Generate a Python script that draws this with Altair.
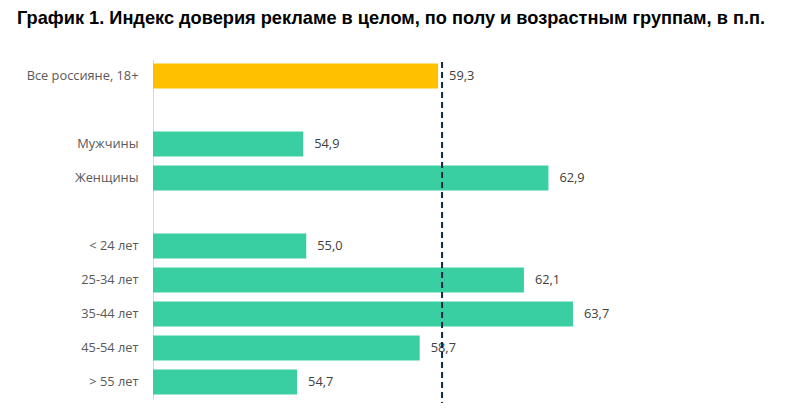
import altair as alt
import pandas as pd

categories = ["Все россияне, 18+", "Мужчины", "Женщины", "< 24 лет", "25-34 лет",
              "35-44 лет", "45-54 лет", "> 55 лет"]
values = [59.3, 54.9, 62.9, 55.0, 62.1, 63.7, 58.7, 54.7]
groups = ["total", "sex", "sex", "age", "age", "age", "age", "age"]
order = ["Все россияне, 18+", " ", "Мужчины", "Женщины", "  ", "< 24 лет", "25-34 лет",
         "35-44 лет", "45-54 лет", "> 55 лет"]
average = 59.3

df = pd.DataFrame({
    "cat": categories,
    "val": values,
    "grp": groups,
    "lbl": [f"{v:.1f}".replace(".", ",") for v in values],
})

LABEL_FONT = "Open Sans"
FS = 12.8

y_enc = alt.Y("cat:N", sort=order,
              scale=alt.Scale(domain=order, paddingInner=0.26, paddingOuter=0.13),
              axis=alt.Axis(title=None, ticks=False, labelPadding=15, domainColor="#D9D9D9",
                            domainWidth=1, labelColor="#595959", labelFont=LABEL_FONT,
                            labelFontSize=FS, grid=False))
x_scale = alt.Scale(domain=[50, 69.9], zero=False, nice=False)

base = alt.Chart(df)

bars = base.mark_bar().encode(
    x=alt.X("val:Q", scale=x_scale, axis=None),
    x2=alt.datum(50),
    y=y_enc,
    color=alt.Color("grp:N", scale=alt.Scale(domain=["total", "sex", "age"],
                                             range=["#FFC000", "#3ACFA2", "#3ACFA2"]),
                    legend=None),
)

texts = base.mark_text(align="left", dx=11, font=LABEL_FONT, fontSize=FS,
                       color="#404040").encode(
    x=alt.X("val:Q", scale=x_scale, axis=None),
    y=alt.Y("cat:N", sort=order, scale=alt.Scale(domain=order)),
    text="lbl:N",
)

rule = alt.Chart(pd.DataFrame({"avg": [average]})).mark_rule(
    strokeDash=[6, 4], strokeWidth=2, color="#0F2841", xOffset=4
).encode(
    x=alt.X("avg:Q", scale=x_scale, axis=None),
    y=alt.value(3),
    y2=alt.value(344),
)

chart = alt.layer(bars, texts, rule).properties(
    width=610,
    height=340,
    padding={"left": 153, "top": 59, "right": 23, "bottom": 19},
    autosize=alt.AutoSizeParams(type="none"),
    title=alt.Title(
        "График 1. Индекс доверия рекламе в целом, по полу и возрастным группам, в п.п.",
        anchor="start", frame="group", dx=-136, offset=17, baseline="alphabetic",
        font="Liberation Sans", fontSize=18.2, fontWeight="bold", color="black",
    ),
).configure_view(stroke=None)

chart.save("out.html", embed_options={"renderer": "svg", "actions": False})
